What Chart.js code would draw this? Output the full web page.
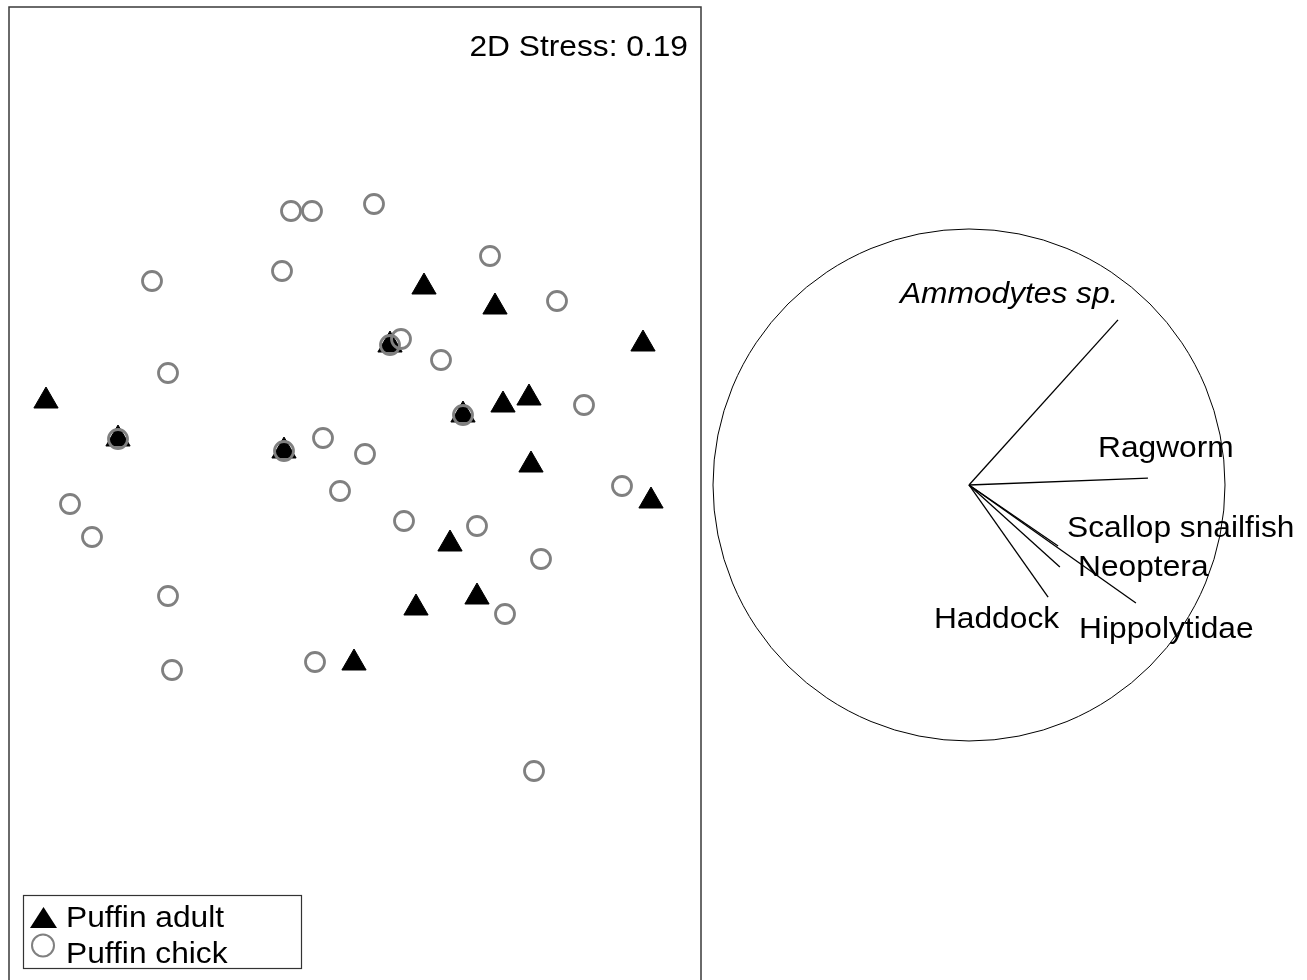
<!DOCTYPE html>
<html>
<head>
<meta charset="utf-8">
<title>MDS puffin diet</title>
<script src="https://cdn.jsdelivr.net/npm/chart.js@4.4.0/dist/chart.umd.min.js"></script>
<style>
  body { margin: 0; background: #fff; }
  #wrap { position: relative; width: 1307px; height: 980px; overflow: hidden; }
  #mdsChart { position: absolute; left: 0; top: 0; }
  #vecChart { position: absolute; left: 705px; top: 0; }
</style>
</head>
<body>
<div id="wrap">
  <canvas id="mdsChart" width="705" height="980"></canvas>
  <canvas id="vecChart" width="602" height="980"></canvas>
</div>
<script>
// MDS coordinates
var adultX = [0.69, 1.40, 2.88, 0.35, -3.09, 1.08, 1.48, 1.74, -2.37, -0.71, 1.76, 2.96, 0.95, 1.22, 0.61, -0.01];
var adultY = [2.03, 1.83, 1.46, 1.45, 0.89, 0.75, 0.85, 0.92, 0.51, 0.39, 0.25, -0.11, -0.54, -1.07, -1.18, -1.73];
var chickX = [-0.64, -0.43, 0.19, 1.35, -2.03, -0.73, 2.02, 0.46, 0.35, 0.86, -1.87, 2.29, 1.08, -2.37, -0.71,
              -0.32, 0.10, -0.15, 2.67, -2.85, -2.63, 0.49, 1.22, 1.86, -1.87, 1.50, -1.83, -0.40, 1.79];
var chickY = [2.79, 2.79, 2.86, 2.34, 2.09, 2.19, 1.89, 1.51, 1.45, 1.30, 1.17, 0.85, 0.75, 0.51, 0.39,
              0.52, 0.36, -0.01, 0.04, -0.14, -0.47, -0.31, -0.36, -0.69, -1.06, -1.24, -1.80, -1.72, -2.81];
var groupNames = ["Puffin adult", "Puffin chick"];
var stressLabel = "2D Stress: 0.19";

// prey vectors (correlation circle)
var preyNames = ["Ammodytes sp.", "Ragworm", "Scallop snailfish", "Neoptera", "Hippolytidae", "Haddock"];
var preyX = [0.582, 0.699, 0.348, 0.355, 0.652, 0.309];
var preyY = [0.645, 0.027, -0.238, -0.320, -0.461, -0.438];
var preyLabelX = [-0.270, 0.504, 0.383, 0.426, 0.430, -0.137];
var preyLabelY = [0.711, 0.109, -0.203, -0.355, -0.596, -0.559];
var preyItalic = [true, false, false, false, false, false];

var FONT = "29.5px Arial, 'Liberation Sans', sans-serif";
var TEXT_STRETCH = 1.075;   // the original text is a bit wide
var GREY = "#808080";

function toPoints(xs, ys) {
  var pts = [];
  for (var i = 0; i < xs.length; i++) {
    pts.push({ x: xs[i], y: ys[i] });
  }
  return pts;
}

// text drawn with a small horizontal stretch, align = "left" | "right"
function wideText(ctx, str, x, y, align) {
  ctx.save();
  ctx.translate(x, y);
  ctx.scale(TEXT_STRETCH, 1);
  ctx.textAlign = align;
  ctx.textBaseline = "alphabetic";
  ctx.fillText(str, 0, 0);
  ctx.restore();
}

var mdsDecor = {
  id: "mdsDecor",
  afterDraw: function (chart) {
    var ctx = chart.ctx;
    var a = chart.chartArea;
    ctx.save();
    // panel frame (bottom edge falls off the picture)
    ctx.strokeStyle = "#3a3a3a";
    ctx.lineWidth = 1.5;
    ctx.beginPath();
    ctx.moveTo(a.left, a.bottom);
    ctx.lineTo(a.left, a.top);
    ctx.lineTo(a.right, a.top);
    ctx.lineTo(a.right, a.bottom);
    ctx.stroke();

    ctx.fillStyle = "#000";
    ctx.font = FONT;
    wideText(ctx, stressLabel, a.right - 13, a.top + 49, "right");

    // legend box
    ctx.lineWidth = 1.2;
    ctx.strokeStyle = "#333";
    ctx.strokeRect(23.5, 895.5, 278, 73);
    // triangle
    ctx.fillStyle = "#000";
    ctx.beginPath();
    ctx.moveTo(43.5, 907);
    ctx.lineTo(57, 928);
    ctx.lineTo(30, 928);
    ctx.closePath();
    ctx.fill();
    // circle
    ctx.strokeStyle = GREY;
    ctx.lineWidth = 2;
    ctx.beginPath();
    ctx.arc(43, 945.5, 11, 0, Math.PI * 2);
    ctx.stroke();
    ctx.fillStyle = "#000";
    wideText(ctx, groupNames[0], 66, 927, "left");
    wideText(ctx, groupNames[1], 66, 963, "left");
    ctx.restore();
  }
};

var mdsChart = new Chart(document.getElementById("mdsChart").getContext("2d"), {
  type: "scatter",
  data: {
    datasets: [
      {
        label: groupNames[1],
        data: toPoints(chickX, chickY),
        pointStyle: "circle",
        pointRadius: 9.5,
        pointBorderWidth: 2.8,
        pointBorderColor: GREY,
        pointBackgroundColor: "rgba(0,0,0,0)"
      },
      {
        label: groupNames[0],
        data: toPoints(adultX, adultY),
        pointStyle: "triangle",
        pointRadius: 14,
        pointBorderWidth: 1,
        pointBorderColor: "#000",
        pointBackgroundColor: "#000"
      }
    ]
  },
  options: {
    responsive: false,
    animation: false,
    layout: { autoPadding: false, padding: { left: 9, top: 7, right: 4, bottom: 0 } },
    plugins: { legend: { display: false }, tooltip: { enabled: false } },
    scales: {
      x: { type: "linear", min: -3.46, max: 3.46, display: false },
      y: { type: "linear", min: -4.90, max: 4.83, display: false }
    }
  },
  plugins: [mdsDecor]
});

var vecDecor = {
  id: "vecDecor",
  beforeDatasetsDraw: function (chart) {
    var ctx = chart.ctx;
    var xs = chart.scales.x;
    var ys = chart.scales.y;
    var cx = xs.getPixelForValue(0);
    var cy = ys.getPixelForValue(0);
    var r = xs.getPixelForValue(1) - cx;
    ctx.save();
    ctx.strokeStyle = "#000";
    ctx.lineWidth = 1;
    ctx.beginPath();
    ctx.arc(cx, cy, r, 0, Math.PI * 2);
    ctx.stroke();
    ctx.restore();
  },
  afterDatasetsDraw: function (chart) {
    var ctx = chart.ctx;
    var xs = chart.scales.x;
    var ys = chart.scales.y;
    ctx.save();
    ctx.fillStyle = "#000";
    for (var i = 0; i < preyNames.length; i++) {
      ctx.font = (preyItalic[i] ? "italic " : "") + FONT;
      wideText(ctx, preyNames[i], xs.getPixelForValue(preyLabelX[i]), ys.getPixelForValue(preyLabelY[i]), "left");
    }
    ctx.restore();
  }
};

var vecSets = [];
for (var i = 0; i < preyNames.length; i++) {
  vecSets.push({
    label: preyNames[i],
    data: [{ x: 0, y: 0 }, { x: preyX[i], y: preyY[i] }],
    showLine: true,
    borderColor: "#000",
    borderWidth: 1.3,
    pointRadius: 0
  });
}

var vecChart = new Chart(document.getElementById("vecChart").getContext("2d"), {
  type: "scatter",
  data: { datasets: vecSets },
  options: {
    responsive: false,
    animation: false,
    layout: { autoPadding: false, padding: 0 },
    plugins: { legend: { display: false }, tooltip: { enabled: false } },
    scales: {
      x: { type: "linear", min: -1.03125, max: 1.3203, display: false },
      y: { type: "linear", min: -1.9336, max: 1.8945, display: false }
    }
  },
  plugins: [vecDecor]
});
</script>
</body>
</html>
